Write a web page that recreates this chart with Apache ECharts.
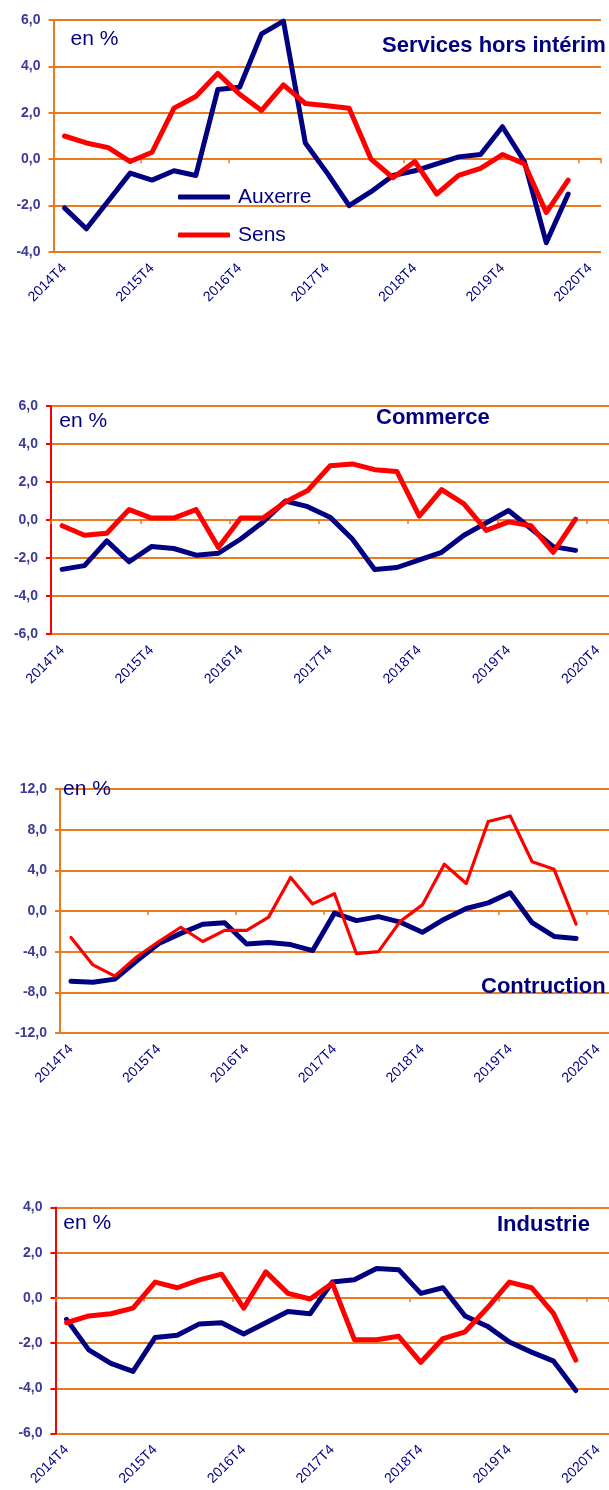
<!DOCTYPE html>
<html><head><meta charset="utf-8">
<script src="https://cdn.jsdelivr.net/npm/echarts@6/dist/echarts.min.js"></script>
<style>html,body{margin:0;padding:0;background:#fff}#c{width:609px;height:1490px}</style>
</head><body><div id="c"></div>
<script>
const categories = ['2014T4','2015T1','2015T2','2015T3','2015T4','2016T1','2016T2','2016T3','2016T4','2017T1','2017T2','2017T3','2017T4','2018T1','2018T2','2018T3','2018T4','2019T1','2019T2','2019T3','2019T4','2020T1','2020T2','2020T3','2020T4'];
const seriesNames = ['Auxerre','Sens'];
const servicesAuxerre = [-2.1,-3.0,-1.8,-0.6,-0.9,-0.5,-0.7,3.0,3.1,5.4,5.95,0.7,-0.6,-2.0,-1.4,-0.7,-0.5,-0.2,0.1,0.2,1.4,-0.1,-3.6,-1.5];
const servicesSens = [1.0,0.7,0.5,-0.1,0.3,2.2,2.7,3.7,2.8,2.1,3.2,2.4,2.3,2.2,0.0,-0.8,-0.1,-1.5,-0.7,-0.4,0.2,-0.2,-2.3,-0.9];
const commerceAuxerre = [-2.6,-2.4,-1.1,-2.2,-1.4,-1.5,-1.85,-1.75,-1.0,-0.1,1.0,0.7,0.15,-1.0,-2.6,-2.5,-2.1,-1.7,-0.8,-0.15,0.5,-0.45,-1.4,-1.6];
const commerceSens = [-0.3,-0.8,-0.7,0.55,0.1,0.1,0.55,-1.45,0.1,0.1,0.95,1.55,2.85,2.95,2.65,2.55,0.2,1.6,0.85,-0.55,-0.1,-0.3,-1.7,0.05];
const constructionAuxerre = [-6.9,-7.0,-6.7,-4.9,-3.2,-2.2,-1.3,-1.15,-3.25,-3.1,-3.3,-3.9,-0.2,-0.95,-0.55,-1.1,-2.1,-0.8,0.25,0.8,1.8,-1.15,-2.5,-2.7];
const constructionSens = [-2.6,-5.3,-6.4,-4.5,-3.0,-1.6,-3.0,-1.9,-1.9,-0.6,3.3,0.7,1.7,-4.2,-4.0,-1.0,0.6,4.6,2.7,8.8,9.35,4.85,4.1,-1.3];
const industryAuxerre = [-0.95,-2.3,-2.9,-3.25,-1.75,-1.65,-1.15,-1.1,-1.6,-1.1,-0.6,-0.7,0.7,0.8,1.3,1.25,0.2,0.45,-0.8,-1.25,-1.95,-2.4,-2.8,-4.1];
const industrySens = [-1.1,-0.8,-0.7,-0.45,0.7,0.45,0.8,1.05,-0.45,1.15,0.2,-0.05,0.65,-1.85,-1.85,-1.7,-2.85,-1.8,-1.5,-0.45,0.7,0.45,-0.7,-2.75];
const panelTitles = ['Services hors intérim','Commerce','Contruction','Industrie'];
const unitLabel = 'en %';
const yMin = [-4,-6,-12,-6];
const yMax = [6,6,12,4];
const yStep = [2,2,4,2];

const FONT = '"Liberation Sans", Arial, sans-serif';
const ORANGE = '#EE7A1E', RED = '#FF0000', NAVY = '#000080';
const panels = [[servicesAuxerre,servicesSens],[commerceAuxerre,commerceSens],[constructionAuxerre,constructionSens],[industryAuxerre,industrySens]];
const grids = [
  {left:53.5, top:20, width:547.5, height:232},
  {left:51, top:406, width:560, height:228},
  {left:60, top:789, width:550, height:244},
  {left:55.5, top:1207.5, width:555, height:226}
];
const axisColors = [ORANGE, RED, ORANGE, RED];
const sensWidth = [5,5,3.2,5];
const titlePos = [[382,34.7],[376,406.7],[481,976],[497,1214]];
const unitPos = [[70.5,29],[59.3,411],[63,779],[63.3,1213]];

const xAxis = [], yAxis = [], series = [], titles = [];
panels.forEach((p,i)=>{
  xAxis.push({gridIndex:i,type:'category',data:categories,boundaryGap:true,position:'bottom',
    axisLine:{show:false,onZero:false},axisTick:{show:false},splitLine:{show:false},
    axisLabel:{interval:3,rotate:45,margin:14,color:NAVY,fontSize:14,fontFamily:FONT}});
  xAxis.push({gridIndex:i,type:'category',data:categories,boundaryGap:true,position:'bottom',
    axisLine:{show:true,onZero:true,lineStyle:{color:ORANGE,width:2}},
    axisTick:{show:true,interval:3,length:4,lineStyle:{color:ORANGE,width:1.5}},
    axisLabel:{show:false},splitLine:{show:false}});
  yAxis.push({gridIndex:i,type:'value',min:yMin[i],max:yMax[i],interval:yStep[i],
    axisLine:{show:true,lineStyle:{color:axisColors[i],width:2}},
    axisTick:{show:true,length:5,lineStyle:{color:axisColors[i],width:2}},
    splitLine:{show:true,lineStyle:{color:ORANGE,width:2}},
    axisLabel:{margin:13,color:'#3b3b95',fontSize:14,fontWeight:'bold',fontFamily:FONT,
      formatter:v=>v.toFixed(1).replace('.',',')}});
  series.push({name:seriesNames[0],type:'line',xAxisIndex:2*i,yAxisIndex:i,data:p[0],symbol:'none',
    lineStyle:{color:NAVY,width:5,cap:'round',join:'round'},itemStyle:{color:NAVY},z:3});
  series.push({name:seriesNames[1],type:'line',xAxisIndex:2*i,yAxisIndex:i,data:p[1],symbol:'none',
    lineStyle:{color:RED,width:sensWidth[i],cap:'round',join:'round'},itemStyle:{color:RED},z:4});
  titles.push({text:panelTitles[i],left:titlePos[i][0],top:titlePos[i][1],padding:0,
    textStyle:{fontSize:22,fontWeight:'bold',color:NAVY,fontFamily:FONT,lineHeight:22}});
  titles.push({text:unitLabel,left:unitPos[i][0],top:unitPos[i][1],padding:0,
    textStyle:{fontSize:21,fontWeight:'normal',color:NAVY,fontFamily:FONT,lineHeight:21}});
});

const chart = echarts.init(document.getElementById('c'), null, {renderer:'canvas'});
chart.setOption({
  animation:false,
  backgroundColor:'#fff',
  title:titles,
  grid:grids,
  xAxis:xAxis,
  yAxis:yAxis,
  legend:{data:seriesNames,orient:'vertical',left:178,top:185,padding:0,itemGap:14,
    itemWidth:52,itemHeight:5,icon:'roundRect',
    textStyle:{color:NAVY,fontSize:21,fontFamily:FONT,lineHeight:24,padding:[0,0,0,3]}},
  series:series
});
</script></body></html>
